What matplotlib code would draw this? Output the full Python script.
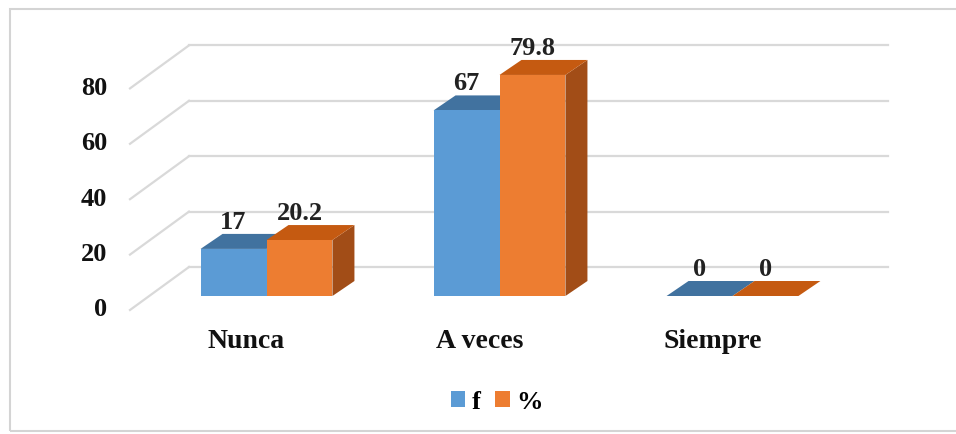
import matplotlib.pyplot as plt
from matplotlib.patches import Polygon, Rectangle, Patch
from matplotlib.transforms import ScaledTranslation

categories = ['Nunca', 'A veces', 'Siempre']
f_values = [17, 67, 0]
pct_values = [20.2, 79.8, 0]
f_labels = ['17', '67', '0']
pct_labels = ['20.2', '79.8', '0']
yticks = [0, 20, 40, 60, 80]
legend_labels = ['f', '%']

FONT = 'Liberation Serif'
GRID = '#d9d9d9'
series = [
    # front, top, side colours
    ('#5b9bd5', '#41729f', '#3a6a96'),
    ('#ed7d31', '#c55a11', '#a24d17'),
]

fig = plt.figure(figsize=(9.56, 4.35), dpi=100)
ax = fig.add_axes([150 / 956, 138 / 435, 699 / 956, 221.6 / 435])
ax.set_xlim(-0.5, 2.5)
ax.set_ylim(0, 80)
ax.axis('off')

inv = ax.transData.inverted()


def px_to_data(dx, dy):
    """pixel offset -> data offset (dy positive upward)"""
    x0, y0 = ax.transData.transform((0, 0))
    a = inv.transform((x0, y0))
    b = inv.transform((x0 + dx, y0 + dy))
    return b[0] - a[0], b[1] - a[1]


def shift(dx, dy):
    return ax.transData + ScaledTranslation(dx / 100, dy / 100, fig.dpi_scale_trans)


# depth planes relative to the bars' front plane (pixels)
back = (39, 29)
front = (-20, -14)
bar_depth = px_to_data(22, 15)
bx, by = px_to_data(back[0] - front[0], back[1] - front[1])

# walls / gridlines
x_left, x_right = ax.get_xlim()
for v in yticks:
    ax.plot([x_left, x_right], [v, v], color=GRID, lw=1.6, zorder=1,
            transform=shift(*back), clip_on=False)
    ax.plot([x_left, x_left + bx], [v, v + by], color=GRID, lw=1.6, zorder=1,
            transform=shift(*front), clip_on=False)
    ax.text(x_left, v, str(v), ha='right', va='center', fontsize=19,
            fontweight='bold', family=FONT, color='#111111',
            transform=shift(front[0] - 23, front[1] + 1))

# bars
width = 0.283
ddx, ddy = bar_depth
for s, (vals, labels) in enumerate([(f_values, f_labels), (pct_values, pct_labels)]):
    fc, tc, sc = series[s]
    for i, (h, lab) in enumerate(zip(vals, labels)):
        xl = i - width + s * width
        xr = xl + width
        side = Polygon([(xr, 0), (xr + ddx, ddy), (xr + ddx, h + ddy), (xr, h)],
                       closed=True, facecolor=sc, edgecolor='none', zorder=3,
                       clip_on=False)
        top = Polygon([(xl, h), (xr, h), (xr + ddx, h + ddy), (xl + ddx, h + ddy)],
                      closed=True, facecolor=tc, edgecolor='none', zorder=3,
                      clip_on=False)
        ax.add_patch(side)
        ax.add_patch(top)
        if h > 0:
            ax.add_patch(Rectangle((xl, 0), width, h, facecolor=fc,
                                   edgecolor='none', zorder=3, clip_on=False))
        ax.text(xl + width / 2, h + ddy, lab, ha='center', va='bottom',
                fontsize=19, fontweight='bold', family=FONT, color='#222222',
                transform=shift(0, 1), zorder=5)

# category labels
for i, c in enumerate(categories):
    ax.text(i, 0, c, ha='center', va='center', fontsize=20, fontweight='bold',
            family=FONT, color='#111111', transform=shift(front[0], front[1] - 31))

# legend
handles = [Patch(facecolor=series[0][0]), Patch(facecolor=series[1][0])]
fig.legend(handles, legend_labels, loc='center', bbox_to_anchor=(497 / 956, 1 - 403 / 435),
           ncol=2, frameon=False, handlelength=0.55, handleheight=0.55,
           handletextpad=0.25, columnspacing=0.55,
           prop={'family': FONT, 'weight': 'bold', 'size': 19})

# chart area border (right side runs off the picture)
fig.patches.append(Rectangle((10 / 956, 3 / 435), 1.2, 1 - 13 / 435,
                             transform=fig.transFigure, facecolor='none',
                             edgecolor='#d4d4d4', lw=1.5))

fig.savefig('out.png', dpi=100)
